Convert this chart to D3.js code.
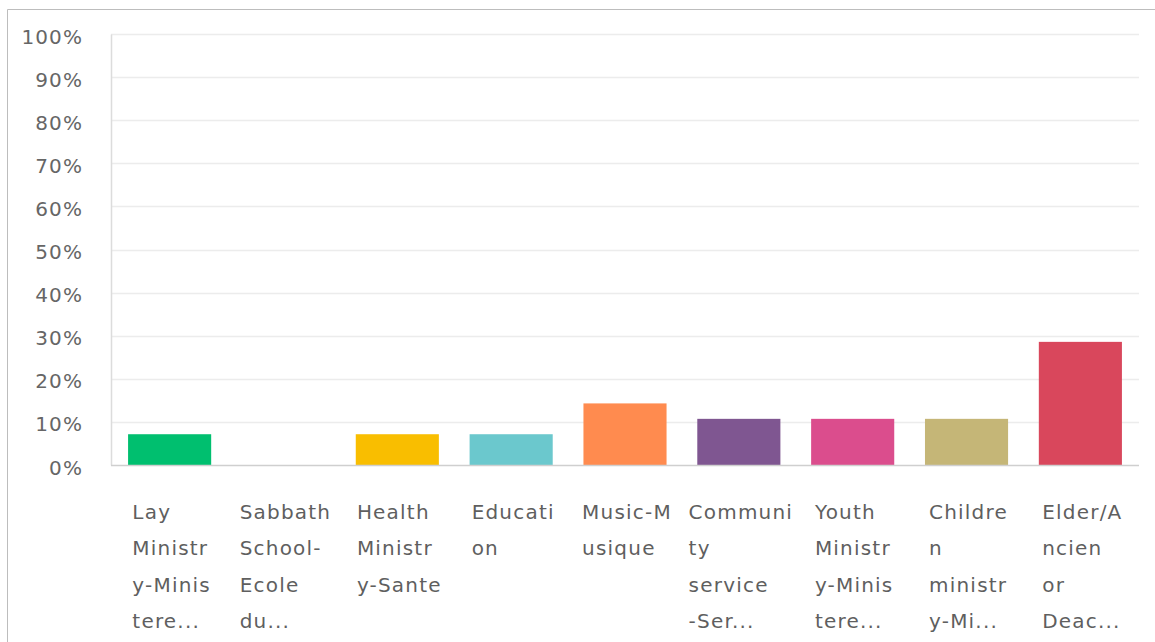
<!DOCTYPE html>
<html>
<head>
<meta charset="utf-8">
<script src="https://cdn.jsdelivr.net/npm/d3@7"></script>
<style>
  html, body { margin: 0; padding: 0; background: #fff; }
  svg { display: block; }
</style>
</head>
<body>
<svg id="chart" width="1155" height="642"></svg>
<script>
const categories = [
  "Lay Ministry-Ministere...", "Sabbath School-Ecole du...", "Health Ministry-Sante",
  "Education", "Music-Musique", "Community service-Ser...",
  "Youth Ministry-Ministere...", "Children ministry-Mi...", "Elder/Ancien or Deac..."
];
const tickLabels = [
  ["Lay", "Ministr", "y-Minis", "tere..."],
  ["Sabbath", "School-", "Ecole", "du..."],
  ["Health", "Ministr", "y-Sante"],
  ["Educati", "on"],
  ["Music-M", "usique"],
  ["Communi", "ty", "service", "-Ser..."],
  ["Youth", "Ministr", "y-Minis", "tere..."],
  ["Childre", "n", "ministr", "y-Mi..."],
  ["Elder/A", "ncien", "or", "Deac..."]
];
const values = [7.14, 0, 7.14, 7.14, 14.29, 10.71, 10.71, 10.71, 28.57];
const colors = ["#00bf6f", "#507cb6", "#f9be00", "#6bc8cd", "#ff8b4f", "#7f5691", "#db4d8d", "#c5b677", "#d9475c"];
const yTicks = [0, 10, 20, 30, 40, 50, 60, 70, 80, 90, 100];

const svg = d3.select("#chart");
const margin = { left: 111, right: 16, top: 34, bottom: 177 };
const W = 1155, H = 642;
const x = d3.scaleBand().domain(categories).range([margin.left, W - margin.right]).paddingInner(0.27).paddingOuter(0.15);
const y = d3.scaleLinear().domain([0, 100]).range([H - margin.bottom, margin.top]);

// outer frame
svg.append("line").attr("x1", 7.5).attr("x2", W).attr("y1", 9.5).attr("y2", 9.5).attr("stroke", "#bdbdbd");
svg.append("line").attr("x1", 7.5).attr("x2", 7.5).attr("y1", 9.5).attr("y2", H).attr("stroke", "#bdbdbd");

// gridlines
svg.append("g").selectAll("line").data(yTicks.filter(d => d > 0)).join("line")
  .attr("x1", margin.left).attr("x2", W - margin.right)
  .attr("y1", d => Math.round(y(d)) + 0.5).attr("y2", d => Math.round(y(d)) + 0.5)
  .attr("stroke", "#ececec").attr("stroke-width", 1.5);

// y axis
const yAxis = d3.axisLeft(y).tickValues(yTicks).tickFormat(d => d + "%").tickSize(0).tickPadding(28);
const gy = svg.append("g").attr("transform", `translate(${margin.left},0)`).call(yAxis);
gy.select(".domain").attr("stroke", "#dcdcdc").attr("stroke-width", 1.5);
gy.selectAll("text").attr("fill", "#666").style("font-family", "'DejaVu Sans', sans-serif")
  .style("font-size", "20px").style("letter-spacing", "1.1px").attr("dy", "0.45em");

// bars
svg.append("g").selectAll("rect").data(values).join("rect")
  .attr("x", (d, i) => x(categories[i]))
  .attr("width", x.bandwidth())
  .attr("y", d => y(d))
  .attr("height", d => y(0) - y(d))
  .attr("fill", (d, i) => colors[i]);

// baseline
svg.append("line").attr("x1", margin.left).attr("x2", W - margin.right)
  .attr("y1", y(0) + 0.5).attr("y2", y(0) + 0.5).attr("stroke", "#cfcfcf").attr("stroke-width", 1.5);

// x axis labels: left-aligned lines in a block centred under each bar
const xAxis = d3.axisBottom(x).tickSize(0).tickFormat("");
const gx = svg.append("g").attr("transform", `translate(0,${y(0)})`).call(xAxis);
gx.select(".domain").remove();
gx.selectAll(".tick").each(function(d, i) {
  const t = d3.select(this).append("text")
    .attr("text-anchor", "start")
    .attr("fill", "#5f5f5f")
    .style("font-family", "'DejaVu Sans', sans-serif")
    .style("font-size", "20px")
    .style("letter-spacing", "1.2px");
  tickLabels[i].forEach((line, j) => {
    t.append("tspan").attr("x", 0).attr("y", 54 + j * 36.3).text(line);
  });
  const w = t.node().getBBox().width;
  t.attr("transform", `translate(${-w / 2 + 2},0)`);
});
</script>
</body>
</html>
